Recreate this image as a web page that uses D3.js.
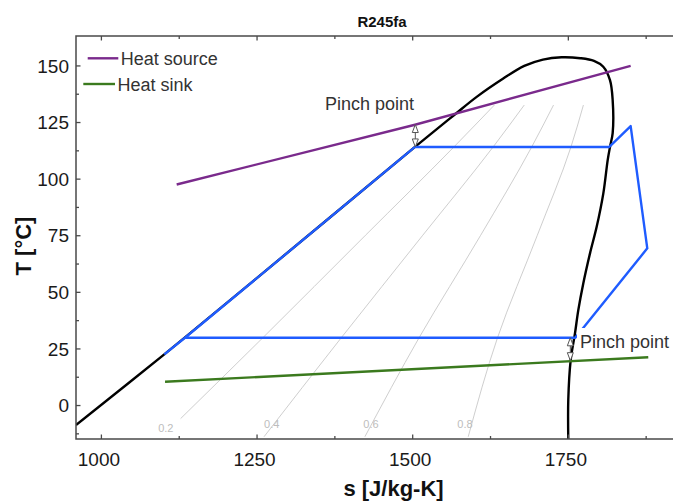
<!DOCTYPE html>
<html><head><meta charset="utf-8">
<script src="https://cdn.jsdelivr.net/npm/d3@7"></script>
<style>
body{margin:0;background:#fff}
svg{display:block;font-family:"Liberation Sans",Arial,Helvetica,sans-serif}
</style>
</head><body>
<svg id="chart" width="673" height="503"></svg>
<script>
// ---------- data ----------
const title = "R245fa";
const xLabel = "s [J/kg-K]";
const yLabel = "T [°C]";
const xTicks = [1000, 1250, 1500, 1750];
const xMinorTicks = [1125, 1375, 1625, 1875];
const yTicks = [0, 25, 50, 75, 100, 125, 150];
const yMinorTicks = [-12.5, 12.5, 37.5, 62.5, 87.5, 112.5, 137.5];

// saturation dome
const domeS = [960, 1101.8, 1247.5, 1504.5, 1567, 1603.6, 1646.3, 1680, 1710, 1740, 1770, 1792, 1806.9, 1817.7, 1822, 1822, 1817.7, 1814, 1807, 1796.3, 1785.6, 1774.8, 1766.8, 1761.5, 1754.6, 1750.7, 1750.7];
const domeT = [-8.8, 22.4, 55.4, 114, 128, 136.1, 144.2, 149.8, 152.6, 153.6, 153.2, 152.0, 149.4, 143.5, 134.7, 120.1, 114, 108.2, 93.5, 78.7, 67, 53.7, 41.9, 31.7, 19.9, 2.2, -15];

// ORC cycle
const cycleS = [1101.8, 1135, 1504.5, 1816.6, 1850.9, 1877.6, 1762, 1135];
const cycleT = [22.4, 29.7, 114, 114, 123.2, 69.2, 29.7, 29.7];

// heat source / sink
const sourceS = [1121.7, 1504.5, 1850.9];
const sourceT = [97.4, 123.8, 149.8];
const sinkS = [1103, 1879.2];
const sinkT = [10.3, 21.1];

// quality lines
const qualityLabels = ["0.2", "0.4", "0.6", "0.8"];
const qualityS = [
  [1128, 1260, 1425, 1567, 1632],
  [1262, 1386, 1517, 1630, 1680],
  [1424, 1511, 1610, 1692, 1727],
  [1590, 1637, 1701, 1755, 1775]
];
const qualityT = [
  [-6, 29.7, 75, 114, 132.5],
  [-14, 29.7, 75, 114, 132.5],
  [-14, 29.7, 75, 114, 132.5],
  [-14, 29.7, 75, 114, 132.5]
];
const qualityLabelS = [1092, 1262, 1421.5, 1572.4];
const qualityLabelT = [-11.9, -10.2, -10.2, -10.2];

// pinch points
const pinchS = [1505, 1754];
const pinchLow = [114, 19.6];
const pinchHigh = [123.9, 29.7];
const pinchLabel = "Pinch point";

const legendNames = ["Heat source", "Heat sink"];
const colors = {dome: "#000000", cycle: "#1f5cff", source: "#7a2a8c", sink: "#3b7a1e", quality: "#c8c8c8"};

// ---------- chart ----------
const svg = d3.select("#chart");
const W = 673, H = 503;
const L = 76, T = 36, B = 439, R = 688;
const x = d3.scaleLinear().domain([960, 1943]).range([L, R]);
const y = d3.scaleLinear().domain([-15, 163]).range([B, T]);

svg.append("defs").append("clipPath").attr("id", "clip")
  .append("rect").attr("x", L).attr("y", T).attr("width", R - L).attr("height", B - T);

const plot = svg.append("g").attr("clip-path", "url(#clip)");
const line = d3.line().x(d => x(d[0])).y(d => y(d[1]));
const smooth = d3.line().x(d => x(d[0])).y(d => y(d[1])).curve(d3.curveCatmullRom.alpha(0.5));
const zip = (a, b) => a.map((v, i) => [v, b[i]]);

// quality lines
qualityS.forEach((qs, i) => {
  plot.append("path").attr("d", d3.line().x(d => x(d[0])).y(d => y(d[1])).curve(d3.curveMonotoneY)(zip(qs, qualityT[i])))
    .attr("fill", "none").attr("stroke", colors.quality).attr("stroke-width", 0.9);
});
qualityLabels.forEach((t, i) => {
  plot.append("text").attr("x", x(qualityLabelS[i])).attr("y", y(qualityLabelT[i]))
    .attr("font-size", 11).attr("fill", "#bdbdbd").text(t);
});

// dome
plot.append("path").attr("d", smooth(zip(domeS, domeT)))
  .attr("fill", "none").attr("stroke", colors.dome).attr("stroke-width", 2.4).attr("stroke-linejoin", "round");
// source / sink
plot.append("path").attr("d", line(zip(sourceS, sourceT)))
  .attr("fill", "none").attr("stroke", colors.source).attr("stroke-width", 2.4);
plot.append("path").attr("d", line(zip(sinkS, sinkT)))
  .attr("fill", "none").attr("stroke", colors.sink).attr("stroke-width", 2.4);
// cycle
plot.append("path").attr("d", line(zip(cycleS, cycleT)))
  .attr("fill", "none").attr("stroke", colors.cycle).attr("stroke-width", 2.4).attr("stroke-linejoin", "round");

// pinch arrows
pinchS.forEach((s, i) => {
  const px = x(s), top = y(pinchHigh[i]), bot = y(pinchLow[i]);
  const hl = 8, hw = 3;
  const g = plot.append("g").attr("stroke", "#555").attr("stroke-width", 1).attr("fill", "#fff");
  g.append("line").attr("x1", px).attr("x2", px).attr("y1", top + hl).attr("y2", bot - hl);
  g.append("path").attr("d", `M${px},${top}L${px - hw},${top + hl}L${px + hw},${top + hl}Z`);
  g.append("path").attr("d", `M${px},${bot}L${px - hw},${bot - hl}L${px + hw},${bot - hl}Z`);
});

// pinch labels
svg.append("text").attr("x", 325).attr("y", 110).attr("font-size", 18).attr("fill", "#333").text(pinchLabel);
svg.append("rect").attr("x", 577).attr("y", 328).attr("width", 100).attr("height", 24).attr("fill", "#fff");
svg.append("text").attr("x", 580).attr("y", 347.7).attr("font-size", 18).attr("fill", "#333").text(pinchLabel);

// legend
const legY = [58.3, 84];
const legX = [[87.7, 118.3], [83.3, 115]];
legendNames.forEach((n, i) => {
  svg.append("line").attr("x1", legX[i][0]).attr("x2", legX[i][1]).attr("y1", legY[i]).attr("y2", legY[i])
    .attr("stroke", i === 0 ? colors.source : colors.sink).attr("stroke-width", 2.4);
  svg.append("text").attr("x", legX[i][1] + 2.4).attr("y", legY[i] + 6.6).attr("font-size", 18).attr("fill", "#333").text(n);
});

// axes
const axisColor = "#4a4a4a";
const fmt = d3.format("d");
const gB = svg.append("g").attr("transform", `translate(0,${B})`)
  .call(d3.axisBottom(x).tickValues(xTicks).tickFormat(fmt).tickSizeInner(-4.5).tickSizeOuter(0).tickPadding(13));
const gBm = svg.append("g").attr("transform", `translate(0,${B})`)
  .call(d3.axisBottom(x).tickValues(xMinorTicks).tickSizeInner(-3).tickSizeOuter(0).tickFormat(""));
const gT = svg.append("g").attr("transform", `translate(0,${T})`)
  .call(d3.axisTop(x).tickValues(xTicks).tickSizeInner(-4.5).tickSizeOuter(0).tickFormat(""));
const gTm = svg.append("g").attr("transform", `translate(0,${T})`)
  .call(d3.axisTop(x).tickValues(xMinorTicks).tickSizeInner(-3).tickSizeOuter(0).tickFormat(""));
const gL = svg.append("g").attr("transform", `translate(${L},0)`)
  .call(d3.axisLeft(y).tickValues(yTicks).tickFormat(fmt).tickSizeInner(-4.5).tickSizeOuter(0).tickPadding(7));
const gLm = svg.append("g").attr("transform", `translate(${L},0)`)
  .call(d3.axisLeft(y).tickValues(yMinorTicks).tickSizeInner(-3).tickSizeOuter(0).tickFormat(""));
[gB, gBm, gT, gTm, gL, gLm].forEach(g => {
  g.select(".domain").remove();
  g.selectAll(".tick line").attr("stroke", axisColor).attr("stroke-width", 1.3);
  g.selectAll("text").attr("font-size", 19).attr("fill", "#1a1a1a").attr("font-family", "Liberation Sans, Arial, sans-serif");
});
gB.selectAll(".tick text").attr("dx", -2.5).attr("y", 26.7).attr("dy", 0);
gL.selectAll(".tick text").attr("x", -7).attr("dy", "0.35em");

// frame
svg.append("path").attr("d", `M${W},${T}H${L}V${B}H${W}`)
  .attr("fill", "none").attr("stroke", axisColor).attr("stroke-width", 1.5);

// titles
svg.append("text").attr("x", 382).attr("y", 27).attr("text-anchor", "middle")
  .attr("font-size", 15).attr("font-weight", "bold").attr("fill", "#111").text(title);
svg.append("text").attr("x", 393.5).attr("y", 496).attr("text-anchor", "middle")
  .attr("font-size", 22).attr("font-weight", "bold").attr("fill", "#111").text(xLabel);
svg.append("text").attr("transform", "translate(31,246) rotate(-90)").attr("text-anchor", "middle")
  .attr("font-size", 22).attr("font-weight", "bold").attr("fill", "#111").text(yLabel);
</script>
</body></html>
